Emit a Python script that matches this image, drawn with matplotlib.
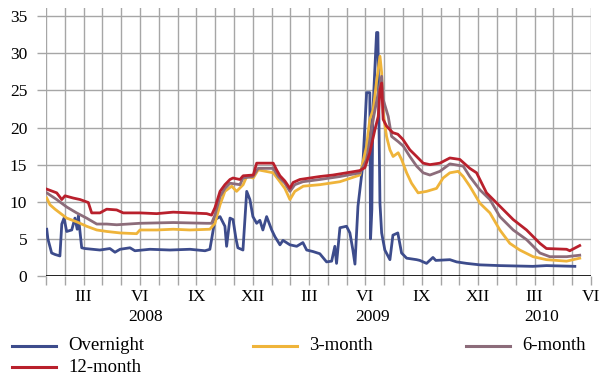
import matplotlib
matplotlib.use('Agg')
import matplotlib.pyplot as plt
import matplotlib.transforms as mtransforms
from matplotlib.lines import Line2D

plt.rcParams['font.family'] = ['Liberation Serif', 'DejaVu Serif']
plt.rcParams['font.size'] = 12.5

# x values are months since 1 Jan 2008
t_overnight = [0.04, 0.1, 0.3, 0.48, 0.74, 0.84, 0.96, 1.10, 1.37, 1.54, 1.66, 1.72, 1.90,
               2.07, 2.87, 3.40, 3.67, 3.94, 4.47, 4.73, 5.53, 6.60, 7.66, 8.46, 8.72,
               8.81, 8.99, 9.26, 9.52, 9.61, 9.79, 9.95, 10.11, 10.21, 10.48, 10.68, 10.85,
               11.01, 11.21, 11.38, 11.54, 11.74, 12.01, 12.18, 12.45, 12.61, 12.98, 13.34,
               13.67, 13.87, 14.20, 14.57, 14.93, 15.20, 15.37, 15.46, 15.64, 15.99, 16.17,
               16.33, 16.44, 16.60, 16.86, 17.06, 17.23, 17.27, 17.34, 17.39, 17.59, 17.66,
               17.77, 17.86, 18.03, 18.30, 18.46, 18.72, 18.92, 19.19, 19.72, 19.89, 20.25,
               20.59, 20.74, 21.49, 21.85, 22.38, 23.09, 24.15, 25.90, 26.63, 28.14]
overnight = [6.3, 5.0, 3.1, 2.9, 2.7, 7.0, 7.8, 6.0, 6.2, 7.8, 6.3, 8.1, 3.8,
             3.7, 3.5, 3.7, 3.2, 3.6, 3.8, 3.4, 3.6, 3.5, 3.6, 3.4, 3.6,
             4.9, 7.6, 8.0, 6.7, 4.0, 7.8, 7.6, 5.0, 3.8, 3.5, 11.4, 10.3,
             8.0, 7.1, 7.5, 6.2, 8.0, 6.2, 5.3, 4.2, 4.8, 4.2, 4.0,
             4.5, 3.5, 3.3, 3.0, 1.9, 2.0, 4.0, 1.7, 6.5, 6.7, 5.8,
             3.5, 1.6, 9.4, 15.0, 24.7, 24.7, 5.0, 9.0, 22.0, 32.8, 32.8,
             9.8, 5.8, 3.5, 2.2, 5.5, 5.8, 3.1, 2.4, 2.2, 2.1, 1.7,
             2.5, 2.1, 2.2, 1.9, 1.7, 1.5, 1.4, 1.3, 1.4, 1.3]

t_3m = [0.04, 0.21, 0.48, 1.10, 1.63, 2.16, 2.70, 3.23, 3.94, 4.82, 5.00, 5.89, 6.77, 7.66,
        8.72, 8.99, 9.26, 9.52, 9.88, 10.14, 10.49, 10.68, 11.03, 11.29, 12.09, 12.36, 12.71,
        12.98, 13.24, 13.69, 14.57, 15.64, 16.70, 17.06, 17.23, 17.41, 17.59, 17.77, 17.86,
        17.94, 18.12, 18.30, 18.47, 18.74, 18.92, 19.19, 19.45, 19.80, 20.25, 20.78, 21.13,
        21.49, 21.93, 22.20, 22.55, 23.09, 23.62, 24.15, 24.68, 25.21, 25.92, 26.63, 27.70, 28.40]
m3 = [10.5, 9.6, 9.0, 7.8, 7.3, 6.7, 6.2, 6.0, 5.8, 5.7, 6.2, 6.2, 6.3, 6.2,
      6.3, 7.1, 9.6, 11.4, 12.1, 11.4, 12.3, 13.4, 13.2, 14.3, 13.9, 13.0, 11.8,
      10.3, 11.4, 12.1, 12.3, 12.7, 13.6, 17.5, 21.1, 22.4, 26.2, 29.6, 27.4,
      22.0, 18.8, 17.0, 16.1, 16.6, 15.7, 13.9, 12.5, 11.2, 11.4, 11.8, 13.2,
      13.9, 14.1, 13.4, 12.1, 9.8, 8.5, 6.2, 4.4, 3.5, 2.6, 2.2, 2.0, 2.4]

t_6m = [0.04, 0.57, 1.10, 1.63, 2.16, 2.70, 3.23, 3.76, 5.00, 6.77, 8.55, 8.81, 8.99, 9.26,
        9.52, 9.79, 10.32, 10.48, 11.01, 11.29, 12.09, 12.36, 12.71, 12.98, 13.24, 13.67,
        14.57, 15.64, 16.70, 17.06, 17.41, 17.68, 17.86, 17.94, 18.21, 18.39, 18.74, 19.01,
        19.36, 19.72, 20.07, 20.43, 20.96, 21.49, 22.20, 22.55, 23.09, 23.62, 24.15, 24.86,
        25.57, 26.28, 26.81, 27.70, 28.40]
m6 = [11.2, 10.3, 9.3, 8.5, 7.8, 7.0, 7.0, 6.9, 7.1, 7.2, 7.1, 7.1, 8.2, 10.7,
      11.8, 12.5, 12.3, 13.2, 13.4, 14.5, 14.5, 13.4, 12.5, 11.4, 12.3, 12.7,
      13.0, 13.4, 13.9, 15.7, 21.1, 24.7, 26.9, 23.8, 21.5, 18.8, 18.1, 17.5,
      16.1, 14.8, 13.9, 13.6, 14.1, 15.1, 14.8, 13.4, 11.6, 10.3, 8.0, 6.2,
      4.9, 3.1, 2.6, 2.6, 2.8]

t_12m = [0.04, 0.57, 0.84, 1.01, 1.45, 1.81, 2.25, 2.43, 2.87, 3.23, 3.76, 4.11, 5.00, 5.89,
         6.77, 7.66, 8.55, 8.81, 8.99, 9.26, 9.52, 9.79, 9.95, 10.32, 10.49, 11.03, 11.21,
         12.09, 12.27, 12.45, 12.71, 12.98, 13.15, 13.51, 14.04, 14.57, 15.27, 15.99, 16.70,
         16.97, 17.23, 17.50, 17.68, 17.77, 17.86, 17.94, 18.12, 18.30, 18.46, 18.72, 18.99,
         19.36, 19.72, 20.07, 20.43, 20.96, 21.49, 22.02, 22.55, 22.91, 23.44, 24.15, 24.86,
         25.57, 26.28, 26.63, 27.70, 27.87, 28.40]
m12 = [11.7, 11.2, 10.3, 10.8, 10.5, 10.3, 9.9, 8.5, 8.5, 9.0, 8.9, 8.5, 8.5, 8.4,
       8.6, 8.5, 8.4, 8.2, 9.2, 11.4, 12.3, 13.0, 13.2, 13.0, 13.5, 13.6, 15.2,
       15.2, 14.3, 13.5, 12.8, 11.8, 12.6, 13.0, 13.2, 13.4, 13.6, 13.9, 14.2,
       14.6, 16.6, 19.7, 21.5, 25.0, 26.0, 21.1, 20.2, 19.7, 19.3, 19.1, 18.4,
       17.0, 16.1, 15.2, 15.0, 15.2, 15.9, 15.7, 14.5, 13.9, 11.2, 9.4, 7.6,
       6.2, 4.4, 3.7, 3.6, 3.4, 4.1]

month_labels = {2: 'III', 5: 'VI', 8: 'IX', 11: 'XII', 14: 'III', 17: 'VI',
                20: 'IX', 23: 'XII', 26: 'III', 29: 'VI'}
years = ['2008', '2009', '2010']
year_pos = [5.32, 17.37, 26.36]

W, H = 599, 376
fig = plt.figure(figsize=(W / 100, H / 100), dpi=100)
ax = fig.add_axes([46 / W, 100 / H, 545 / W, 268 / H])

grid_col = '#a6a6a6'
series = [
    ('Overnight', t_overnight, overnight, '#3d4c8c'),
    ('3-month', t_3m, m3, '#efb43a'),
    ('6-month', t_6m, m6, '#8c6c7a'),
    ('12-month', t_12m, m12, '#b9202c'),
]
for name, t, v, c in series:
    ax.plot(t, v, color=c, lw=2.0, zorder=3)

ax.set_xlim(0, 29)
ax.set_ylim(0, 36.1)
ax.set_yticks(range(0, 36, 5))
ax.set_xticks(range(30))
ax.set_xticklabels([month_labels.get(i, '') for i in range(30)])
ax.grid(True, color=grid_col, lw=1.0)
ax.set_axisbelow(True)
for s in ax.spines.values():
    s.set_visible(False)
ax.axhline(0, color='black', lw=1.2, zorder=2)
ax.tick_params(axis='x', length=6.5, color=grid_col, width=1.0, pad=3)
ax.tick_params(axis='y', length=6.5, color=grid_col, width=1.0, pad=7)

trans = mtransforms.blended_transform_factory(ax.transData, ax.transAxes)
for y, xp in zip(years, year_pos):
    ax.text(xp, -0.152, y, transform=trans, ha='center', va='center')

# legend laid out by hand: row-major, three columns
leg_pos = [(12, 346), (253, 346), (466, 346), (12, 367)]
for (name, t, v, c), (lx, ly) in zip(series, leg_pos):
    fy = 1 - ly / H
    fig.add_artist(Line2D([lx / W, (lx + 44) / W], [fy, fy], color=c, lw=2.2,
                          transform=fig.transFigure))
    fig.text((lx + 56) / W, fy, name, fontsize=13.5, va='center', ha='left')

fig.savefig('out.png', dpi=100)
